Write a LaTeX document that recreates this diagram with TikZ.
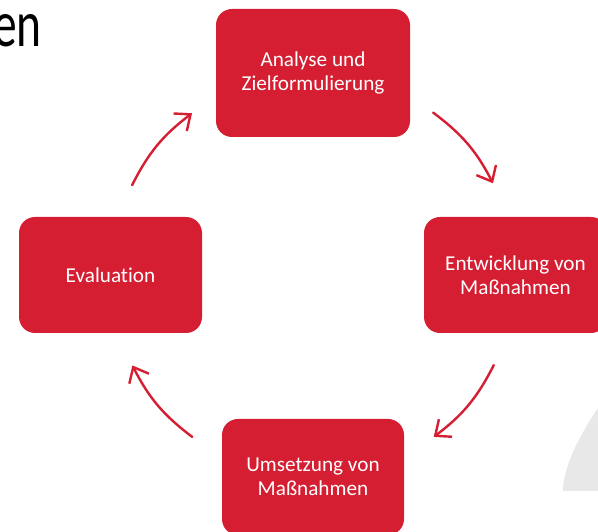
\documentclass[tikz,border=0pt]{standalone}
\usepackage{fontspec}
\setmainfont{Carlito}[Ligatures={NoCommon}]
\usetikzlibrary{arrows.meta}
\definecolor{boxred}{RGB}{213,30,50}
\definecolor{logogray}{RGB}{232,232,232}
\tikzset{
  stagebox/.style={fill=boxred, rounded corners=16pt, text=white, align=center,
    font=\fontsize{21.2}{24}\selectfont, inner sep=0pt},
  cyc/.style={draw=boxred, line width=2.4pt, line cap=round,
    -{Straight Barb[length=13pt,width=22pt,line width=2.4pt]}},
}
\begin{document}
\begin{tikzpicture}[x=1pt,y=1pt]
\useasboundingbox (0,0) rectangle (598,532);
% light gray shape at bottom right
\fill[logogray] (600,126) -- (598,124) .. controls (582,100) and (563,67) .. (563,41) -- (600,41) -- cycle;
% title fragment
\node[anchor=base east, inner sep=0pt, font=\fontsize{66}{70}\selectfont, xscale=0.72] (title) at (42,485) {en};
% boxes
\node[stagebox, minimum width=194pt, minimum height=128pt] (ana) at (313,459) {Analyse und\\Zielformulierung};
\node[stagebox, minimum width=183pt, minimum height=116pt] (ent) at (515.5,257) {Entwicklung von\\Maßnahmen};
\node[stagebox, minimum width=182pt, minimum height=116pt] (ums) at (313,55) {Umsetzung von\\Maßnahmen};
\node[stagebox, minimum width=183pt, minimum height=116pt] (eva) at (110.5,257) {Evaluation};
% arrow end points
\coordinate (c) at (313,257);
\path (c) ++(53.5:202) coordinate (a1s) (c) ++(27:202) coordinate (a1e);
\path (c) ++(-26.5:202) coordinate (a2s) (c) ++(-53.3:202) coordinate (a2e);
\path (c) ++(-126.7:202) coordinate (a3s) (c) ++(-153.4:202) coordinate (a3e);
\path (c) ++(153.6:202) coordinate (a4s) (c) ++(126.8:202) coordinate (a4e);
\draw[cyc] (a1s) to[bend left=13] (a1e);
\draw[cyc] (a2s) to[bend left=13] (a2e);
\draw[cyc] (a3s) to[bend left=13] (a3e);
\draw[cyc] (a4s) to[bend left=13] (a4e);
\end{tikzpicture}
\end{document}
